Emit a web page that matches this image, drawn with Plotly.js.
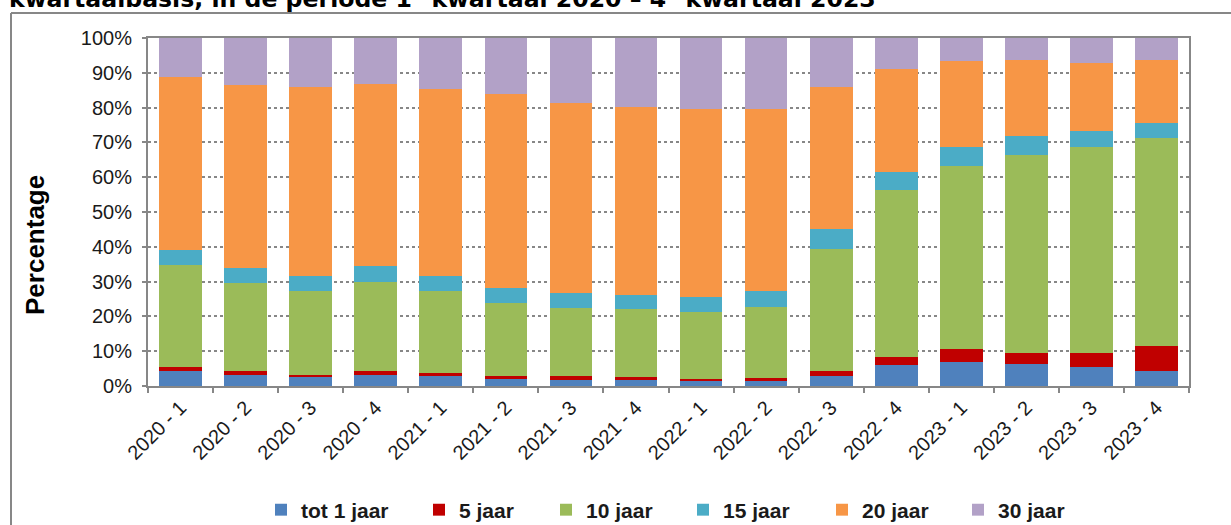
<!DOCTYPE html>
<html>
<head>
<meta charset="utf-8">
<script src="https://cdn.plot.ly/plotly-3.0.1.min.js"></script>
<style>
html, body { margin: 0; padding: 0; background: #fff; }
#chart { width: 1231px; height: 525px; }
</style>
</head>
<body>
<div id="chart"></div>
<script>
// Categories (quarters)
const quarters = ["2020 - 1","2020 - 2","2020 - 3","2020 - 4",
                  "2021 - 1","2021 - 2","2021 - 3","2021 - 4",
                  "2022 - 1","2022 - 2","2022 - 3","2022 - 4",
                  "2023 - 1","2023 - 2","2023 - 3","2023 - 4"];

// Series values (percent of total)
const tot1jaar = [4.3, 3.2, 2.6, 3.2, 2.9, 2.0, 1.6, 1.6, 1.3, 1.3, 2.9, 5.9, 7.0, 6.2, 5.5, 4.3];
const jaar5    = [1.2, 1.1, 0.7, 1.1, 0.7, 0.9, 1.3, 0.9, 0.8, 0.9, 1.5, 2.3, 3.5, 3.4, 4.1, 7.2];
const jaar10   = [29.2, 25.2, 24.0, 25.5, 23.8, 21.0, 19.6, 19.6, 19.2, 20.6, 34.9, 48.2, 52.6, 56.9, 59.1, 59.9];
const jaar15   = [4.4, 4.3, 4.2, 4.7, 4.2, 4.2, 4.1, 4.1, 4.2, 4.6, 5.8, 5.2, 5.6, 5.4, 4.6, 4.1];
const jaar20   = [49.7, 52.7, 54.3, 52.4, 53.8, 55.8, 54.7, 53.9, 54.0, 52.1, 40.7, 29.5, 24.7, 21.8, 19.6, 18.2];
const jaar30   = [11.2, 13.5, 14.2, 13.1, 14.6, 16.1, 18.7, 19.9, 20.5, 20.5, 14.2, 8.9, 6.6, 6.3, 7.1, 6.3];

const seriesNames = ["tot 1 jaar", "5 jaar", "10 jaar", "15 jaar", "20 jaar", "30 jaar"];
const seriesValues = [tot1jaar, jaar5, jaar10, jaar15, jaar20, jaar30];
const seriesColors = ["#4F81BD", "#C00000", "#9BBB59", "#4BACC6", "#F79646", "#B2A1C7"];

const yTicks = [0,10,20,30,40,50,60,70,80,90,100];

// Layout geometry (pixels)
const W = 1231, H = 525;
const M = { l: 148, r: 42, t: 38, b: 139 };
const plotW = W - M.l - M.r, plotH = H - M.t - M.b;
const px2x = p => (p - M.l) / plotW;
const py2y = p => (H - M.b - p) / plotH;

const legendIds = ["legend", "legend2", "legend3", "legend4", "legend5", "legend6"];
// left edge of each legend swatch in the reference, pixels
const legendSwatchLeft = [275, 433, 560, 697, 836, 972];
const legendCenterY = 510;

const traces = seriesNames.map((name, i) => ({
  type: "bar",
  name: name,
  legend: legendIds[i],
  x: quarters,
  y: seriesValues[i],
  marker: { color: seriesColors[i], line: { width: 0 } },
  hoverinfo: "x+y+name"
}));

const gray = "#878787";
const sansFamily = 'Arial, "Liberation Sans", sans-serif';
const legendFont = { family: sansFamily, size: 21, color: "#1a1a1a", weight: "bold" };

const layout = {
  width: W,
  height: H,
  margin: { l: M.l, r: M.r, t: M.t, b: M.b, autoexpand: false },
  barmode: "stack",
  bargap: 0.344,
  paper_bgcolor: "#ffffff",
  plot_bgcolor: "#ffffff",
  font: { family: sansFamily, color: "#1a1a1a" },
  showlegend: true,
  xaxis: {
    type: "category",
    automargin: false,
    tickangle: -45,
    tickfont: { family: sansFamily, size: 20, color: "#1a1a1a" },
    ticks: "outside",
    tickson: "boundaries",
    ticklen: 5,
    tickwidth: 2,
    tickcolor: gray,
    showline: true,
    linecolor: gray,
    linewidth: 2,
    mirror: true,
    showgrid: false,
    fixedrange: true
  },
  yaxis: {
    automargin: false,
    range: [0, 100],
    tickvals: yTicks,
    ticktext: yTicks.map(v => v + "%"),
    tickfont: { family: sansFamily, size: 20, color: "#1a1a1a" },
    ticks: "outside",
    ticklen: 4,
    tickwidth: 2,
    tickcolor: gray,
    ticklabelstandoff: 6,
    showline: true,
    linecolor: gray,
    linewidth: 2,
    mirror: true,
    showgrid: true,
    gridcolor: gray,
    gridwidth: 2,
    griddash: "dot",
    zeroline: false,
    fixedrange: true
  },
  annotations: [
    {
      text: "kwartaalbasis, in de periode 1<sup>e</sup> kwartaal 2020 – 4<sup>e</sup> kwartaal 2023",
      xref: "paper", yref: "paper",
      x: px2x(7), xanchor: "left",
      y: py2y(-2.6), yanchor: "middle",
      showarrow: false,
      font: { family: '"DejaVu Sans", Verdana, sans-serif', size: 23.6, color: "#000000", weight: "bold" }
    },
    {
      text: "Percentage",
      xref: "paper", yref: "paper",
      x: px2x(35), xanchor: "center",
      y: py2y(245), yanchor: "middle",
      textangle: -90,
      showarrow: false,
      font: { family: sansFamily, size: 26, color: "#000000", weight: "bold" }
    }
  ],
  shapes: [
    { type: "line", xref: "paper", yref: "paper", x0: px2x(11), x1: px2x(11), y0: py2y(13), y1: py2y(540),
      line: { color: gray, width: 2 } },
    { type: "line", xref: "paper", yref: "paper", x0: px2x(11), x1: px2x(1250), y0: py2y(13), y1: py2y(13),
      line: { color: gray, width: 2 } }
  ]
};

legendIds.forEach((id, i) => {
  layout[id] = {
    orientation: "h",
    x: px2x(legendSwatchLeft[i] - 14), xanchor: "left",
    y: py2y(legendCenterY), yanchor: "middle",
    font: legendFont,
    bgcolor: "rgba(0,0,0,0)",
    borderwidth: 0,
    itemclick: false
  };
});

Plotly.newPlot("chart", traces, layout, { displayModeBar: false, staticPlot: true });
</script>
</body>
</html>
